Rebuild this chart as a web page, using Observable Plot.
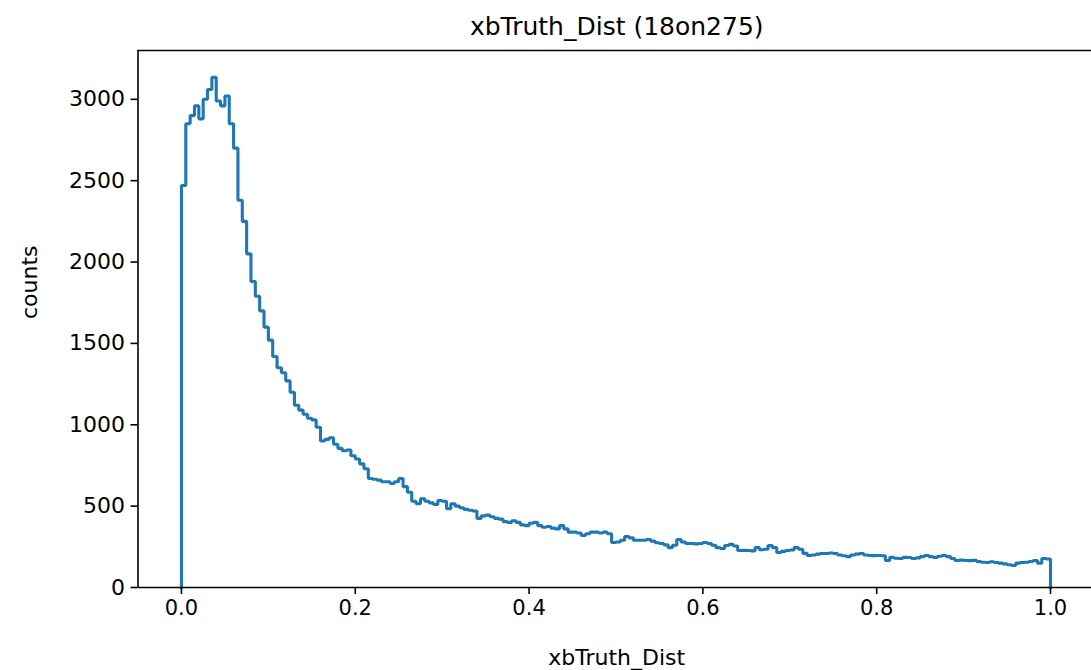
<!DOCTYPE html>
<html>
<head>
<meta charset="utf-8">
<script src="https://cdn.jsdelivr.net/npm/d3@7"></script>
<script src="https://cdn.jsdelivr.net/npm/@observablehq/plot@0.6"></script>
<style>
  html, body { margin: 0; padding: 0; background: #fff; }
  #chart svg { display: block; }
</style>
</head>
<body>
<div id="chart"></div>
<script>
// Histogram (step) of xbTruth_Dist, 200 bins on [0, 1]
const binStart = 0;
const binEnd = 1;
const counts = [
  2470, 2850, 2900, 2960, 2880, 3000, 3060, 3135, 2990, 2960,
  3020, 2850, 2700, 2380, 2250, 2050, 1880, 1790, 1700, 1600,
  1520, 1420, 1350, 1320, 1270, 1200, 1120, 1090, 1065, 1040,
  1030, 985, 900, 910, 920, 880, 855, 840, 845, 810,
  790, 760, 730, 670, 665, 660, 650, 650, 640, 650,
  670, 620, 585, 530, 515, 545, 530, 520, 510, 535,
  530, 485, 515, 500, 490, 480, 475, 470, 425, 440,
  445, 435, 425, 420, 405, 400, 410, 400, 385, 380,
  395, 400, 380, 370, 375, 365, 360, 380, 360, 340,
  340, 335, 320, 330, 340, 340, 335, 340, 330, 277,
  280, 290, 313, 305, 290, 290, 290, 295, 285, 275,
  270, 262, 245, 260, 295, 280, 270, 270, 268, 270,
  277, 270, 260, 245, 240, 258, 265, 255, 227, 228,
  227, 225, 246, 232, 235, 258, 245, 215, 222, 227,
  230, 246, 235, 210, 197, 200, 205, 209, 209, 212,
  209, 200, 195, 190, 200, 205, 209, 200, 197, 196,
  197, 195, 166, 185, 180, 178, 185, 184, 178, 182,
  190, 197, 190, 185, 192, 197, 190, 178, 166, 168,
  166, 165, 167, 160, 155, 154, 158, 154, 150, 145,
  140, 135, 150, 154, 155, 160, 166, 150, 178, 175
];
const xTicks = [0, 0.2, 0.4, 0.6, 0.8, 1.0];
const yTicks = [0, 500, 1000, 1500, 2000, 2500, 3000];
const titleText = "xbTruth_Dist (18on275)";
const xLabel = "xbTruth_Dist";
const yLabel = "counts";

// Build step outline like matplotlib histtype="step"
const n = counts.length;
const w = (binEnd - binStart) / n;
const pts = [{x: binStart, y: 0}];
counts.forEach((c, i) => pts.push({x: binStart + i * w, y: c}));
pts.push({x: binEnd, y: counts[n - 1]});
pts.push({x: binEnd, y: 0});

const W = 1091, H = 670;
const mLeft = 137.5, mTop = 50, mBottom = 83;
// matplotlib-like 5% margin on x: left edge at -0.05; right edge extends past the window
const pxPerUnit = (1050 - 181);
const xMax = (W - 181) / pxPerUnit;

const chart = Plot.plot({
  width: W,
  height: H,
  marginLeft: mLeft,
  marginRight: 0,
  marginTop: mTop,
  marginBottom: mBottom,
  style: {fontFamily: "'DejaVu Sans', sans-serif", fontSize: "21px", color: "black", background: "white"},
  x: {domain: [-0.05, xMax]},
  y: {domain: [0, 3300]},
  marks: [
    Plot.line(pts, {x: "x", y: "y", curve: "step-after", stroke: "#1f77b4", strokeWidth: 3.1, strokeLinejoin: "miter", strokeLinecap: "square"}),
    Plot.ruleX([-0.05], {stroke: "black", strokeWidth: 1.6}),
    Plot.ruleY([0, 3300], {stroke: "black", strokeWidth: 1.6}),
    Plot.axisX({ticks: xTicks, tickFormat: d3.format(".1f"), tickSize: 7, tickPadding: 6, fontSize: 21, label: null, stroke: "black", strokeWidth: 1.6}),
    Plot.axisY({ticks: yTicks, tickFormat: d => String(d), tickSize: 7, tickPadding: 6, fontSize: 22, label: null, stroke: "black", strokeWidth: 1.6}),
    Plot.text([titleText], {frameAnchor: "top", dy: -33, fontSize: 25, fill: "black", dx: 2}),
    Plot.text([xLabel], {frameAnchor: "bottom", dy: 77, fontSize: 22, fill: "black", dx: 2}),
    Plot.text([yLabel], {frameAnchor: "left", dx: -108, rotate: -90, fontSize: 22, fill: "black"})
  ]
});
document.getElementById("chart").appendChild(chart);
</script>
</body>
</html>
